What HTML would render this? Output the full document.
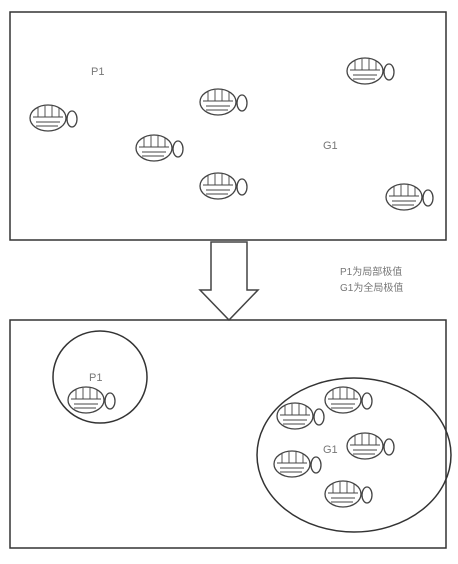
<!DOCTYPE html><html><head><meta charset="utf-8"><style>body{margin:0;background:#fff}svg{display:block}text{font-family:"Liberation Sans","Noto Sans CJK SC",sans-serif;fill:#777}</style></head><body>
<svg width="458" height="564" xmlns="http://www.w3.org/2000/svg">
<defs><g id="fish" stroke="#444" stroke-width="1.3" fill="#fff">
<ellipse cx="18" cy="14" rx="18" ry="13"/>
<ellipse cx="42" cy="15" rx="5" ry="8"/>
<line x1="36" y1="14" x2="37" y2="14"/>
<path d="M3 13 H33 M8 3 V13 M15 2 V13 M22 2 V13 M29 4 V13 M6 18 H30 M6 22 H28" stroke-width="0.9"/>
</g></defs>
<rect x="10" y="12" width="436" height="228" fill="none" stroke="#333" stroke-width="1.5"/>
<rect x="10" y="320" width="436" height="228" fill="none" stroke="#333" stroke-width="1.5"/>
<path d="M211 242 V290 H200 L229 320 L258 290 H247 V242 Z" fill="#fff" stroke="#444" stroke-width="1.5"/>
<g>
<use href="#fish" x="30" y="104"/><use href="#fish" x="200" y="88"/><use href="#fish" x="347" y="57"/>
<use href="#fish" x="136" y="134"/><use href="#fish" x="200" y="172"/><use href="#fish" x="386" y="183"/></g>
<text x="91" y="75" font-size="11">P1</text>
<text x="323" y="149" font-size="11">G1</text>
<text x="340" y="275" font-size="10">P1为局部极值</text>
<text x="340" y="291" font-size="10">G1为全局极值</text>
<ellipse cx="100" cy="377" rx="47" ry="46" fill="none" stroke="#333" stroke-width="1.5"/>
<ellipse cx="354" cy="455" rx="97" ry="77" fill="none" stroke="#333" stroke-width="1.5"/>
<text x="89" y="381" font-size="11">P1</text>
<text x="323" y="453" font-size="11">G1</text>
<g>
<use href="#fish" x="68" y="386"/><use href="#fish" x="277" y="402"/><use href="#fish" x="325" y="386"/>
<use href="#fish" x="347" y="432"/><use href="#fish" x="274" y="450"/><use href="#fish" x="325" y="480"/></g>
</svg></body></html>
